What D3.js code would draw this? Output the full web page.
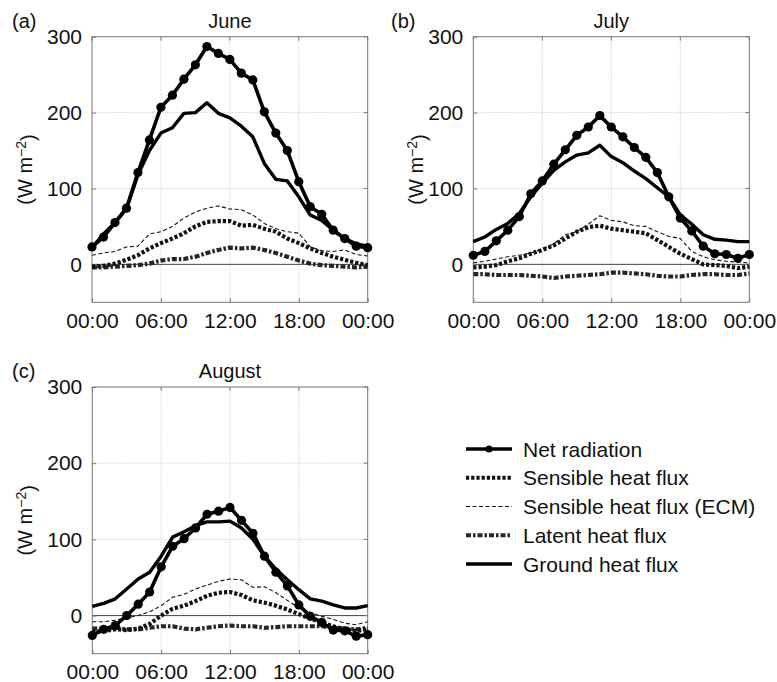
<!DOCTYPE html>
<html><head><meta charset="utf-8">
<script src="https://cdn.jsdelivr.net/npm/d3@7"></script>
<style>
html,body{margin:0;padding:0;background:#fff;}
svg text{font-family:"Liberation Sans",Arial,Helvetica,sans-serif;fill:#111;}
</style></head>
<body>
<svg id="chart" width="777" height="682"></svg>
<script>
// ---- data ----
const hours = d3.range(0, 25);
const xTickValues = [0, 6, 12, 18, 24];
const xTickLabels = ["00:00", "06:00", "12:00", "18:00", "00:00"];
const yTickValues = [0, 100, 200, 300];
const seriesNames = ["Net radiation", "Sensible heat flux", "Sensible heat flux (ECM)", "Latent heat flux", "Ground heat flux"];
const panelLetters = ["(a)", "(b)", "(c)"];
const months = ["June", "July", "August"];

const juneNet      = [23,36,55,74,121,164,207,223,244,263,287,278,270,252,243,201,173,150,109,76,66,45,34,24,22];
const juneSensible = [-3,-2,1,6,12,21,28,34,41,50,56,57,57,51,52,47,43,34,28,21,15,10,6,2,-1];
const juneECM      = [12,15,17,23,24,40,43,50,61,69,74,77,73,72,65,54,47,43,41,23,18,17,19,13,11];
const juneLatent   = [-4,-4,-3,-2,-1,1,5,7,7,10,15,19,22,21,22,19,15,10,5,1,-1,-2,-3,-4,-3];
const juneGround   = [22,40,55,73,118,150,173,180,199,200,213,199,193,182,168,133,112,110,89,65,58,45,34,27,24];

const julyNet      = [12,17,31,45,63,93,110,132,151,170,181,196,181,168,154,141,121,89,61,44,24,14,13,8,13];
const julySensible = [-4,-3,-1,4,8,14,19,25,34,43,49,51,47,45,43,41,32,23,14,7,0,-1,-2,-5,-3];
const julyECM      = [2,4,7,10,12,15,20,27,39,43,53,64,58,56,51,50,43,37,34,17,10,6,4,3,2];
const julyLatent   = [-13,-13,-14,-14,-14,-15,-16,-18,-16,-15,-14,-13,-11,-11,-12,-13,-15,-16,-16,-14,-13,-13,-14,-14,-12];
const julyGround   = [30,36,46,54,67,89,107,124,135,144,147,157,142,134,123,113,101,89,65,53,39,33,32,30,30];

const augNet       = [-26,-18,-13,0,15,31,64,91,101,115,133,137,142,125,108,78,57,39,14,-1,-9,-19,-20,-27,-25];
const augSensible  = [-22,-20,-18,-19,-17,-11,0,9,13,19,26,30,31,27,20,17,13,8,2,-4,-9,-14,-18,-20,-18];
const augECM       = [-8,-8,-6,-3,0,5,13,24,28,35,40,45,48,47,37,38,30,20,10,4,-1,-5,-10,-12,-8];
const augLatent    = [-17,-17,-16,-18,-18,-16,-14,-14,-17,-18,-16,-14,-13,-14,-14,-16,-15,-14,-14,-14,-14,-16,-17,-18,-16];
const augGround    = [12,16,22,35,48,57,78,103,110,118,123,123,124,115,100,78,61,47,34,22,19,14,10,10,13];

// ---- styles ----
const styles = {
  "Net radiation":            {w:3.6, dash:null,      color:"#000", marker:true},
  "Sensible heat flux":       {w:4.2, dash:"3.2,2",   color:"#111", marker:false},
  "Sensible heat flux (ECM)": {w:1.1, dash:"4,2.5",   color:"#111", marker:false},
  "Latent heat flux":         {w:4.2, dash:"5,2,2.5,2", color:"#262626", marker:false},
  "Ground heat flux":         {w:3.4, dash:null,      color:"#000", marker:false}
};
const drawOrder = ["Sensible heat flux (ECM)", "Latent heat flux", "Sensible heat flux", "Ground heat flux", "Net radiation"];

const panels = [
  {letter:panelLetters[0], title:months[0], left:92, right:367.7, top:36.7, bottom:302.3, ylabX:25, letterX:12,
   series:{"Net radiation":juneNet,"Sensible heat flux":juneSensible,"Sensible heat flux (ECM)":juneECM,"Latent heat flux":juneLatent,"Ground heat flux":juneGround}},
  {letter:panelLetters[1], title:months[1], left:473.3, right:749.3, top:36.7, bottom:302.3, ylabX:416, letterX:391,
   series:{"Net radiation":julyNet,"Sensible heat flux":julySensible,"Sensible heat flux (ECM)":julyECM,"Latent heat flux":julyLatent,"Ground heat flux":julyGround}},
  {letter:panelLetters[2], title:months[2], left:92.3, right:367.7, top:387, bottom:653.7, ylabX:25, letterX:12,
   series:{"Net radiation":augNet,"Sensible heat flux":augSensible,"Sensible heat flux (ECM)":augECM,"Latent heat flux":augLatent,"Ground heat flux":augGround}}
];

const svg = d3.select("#chart");

panels.forEach(p => {
  const x = d3.scaleLinear().domain([0, 24]).range([p.left, p.right]);
  const y = d3.scaleLinear().domain([-50, 300]).range([p.bottom, p.top]);
  const g = svg.append("g");

  // grid
  g.selectAll(".vg").data([6,12,18]).enter().append("line")
    .attr("x1", d=>x(d)).attr("x2", d=>x(d)).attr("y1", p.top).attr("y2", p.bottom)
    .attr("stroke", "#b8b8b8").attr("stroke-width", 0.8).attr("stroke-dasharray", "1,1.5");
  g.selectAll(".hg").data([100,200]).enter().append("line")
    .attr("x1", p.left).attr("x2", p.right).attr("y1", d=>y(d)).attr("y2", d=>y(d))
    .attr("stroke", "#b8b8b8").attr("stroke-width", 0.8).attr("stroke-dasharray", "1,1.5");

  // zero line
  g.append("line").attr("x1", p.left).attr("x2", p.right).attr("y1", y(0)).attr("y2", y(0))
    .attr("stroke", "#444").attr("stroke-width", 1);

  // axes (labels only, ticks inward)
  const xAxis = d3.axisBottom(x).tickValues(xTickValues).tickSize(-4)
    .tickFormat((d,i)=>xTickLabels[i]).tickPadding(9);
  const gx = g.append("g").attr("transform", `translate(0,${p.bottom})`).call(xAxis);
  gx.select(".domain").remove();
  gx.selectAll("line").attr("stroke", "#777");
  gx.selectAll("text").attr("font-size", 21).attr("dy", "0.78em").style("font-family", "Liberation Sans, Arial, sans-serif").attr("fill", "#111");

  const yAxis = d3.axisLeft(y).tickValues(yTickValues).tickSize(-4).tickPadding(10);
  const gy = g.append("g").attr("transform", `translate(${p.left},0)`).call(yAxis);
  gy.select(".domain").remove();
  gy.selectAll("line").attr("stroke", "#777");
  gy.selectAll("text").attr("font-size", 21).style("font-family", "Liberation Sans, Arial, sans-serif").attr("fill", "#111");

  // top/right inward ticks
  g.selectAll(".tt").data(xTickValues).enter().append("line")
    .attr("x1", d=>x(d)).attr("x2", d=>x(d)).attr("y1", p.top).attr("y2", p.top+4).attr("stroke", "#777");
  g.selectAll(".rt").data(yTickValues).enter().append("line")
    .attr("x1", p.right).attr("x2", p.right-4).attr("y1", d=>y(d)).attr("y2", d=>y(d)).attr("stroke", "#777");

  // frame
  g.append("rect").attr("x", p.left).attr("y", p.top).attr("width", p.right-p.left).attr("height", p.bottom-p.top)
    .attr("fill", "none").attr("stroke", "#777").attr("stroke-width", 1);

  // series
  const line = d3.line().x((d,i)=>x(hours[i])).y(d=>y(d));
  drawOrder.forEach(name => {
    const s = styles[name];
    const vals = p.series[name];
    const path = g.append("path").datum(vals).attr("d", line)
      .attr("fill", "none").attr("stroke", s.color).attr("stroke-width", s.w)
      .attr("stroke-linejoin", "round");
    if (s.dash) path.attr("stroke-dasharray", s.dash);
    if (s.marker) {
      g.selectAll(null).data(vals).enter().append("circle")
        .attr("cx", (d,i)=>x(hours[i])).attr("cy", d=>y(d)).attr("r", 4.6).attr("fill", "#000");
    }
  });

  // title and letter
  svg.append("text").attr("x", (p.left+p.right)/2).attr("y", p.top-9).attr("text-anchor", "middle")
    .attr("font-size", 20).text(p.title);
  svg.append("text").attr("x", p.letterX).attr("y", p.top-9).attr("font-size", 20).text(p.letter);

  // y label
  const yl = svg.append("text").attr("transform", `translate(${p.ylabX},${(p.top+p.bottom)/2}) rotate(-90)`)
    .attr("text-anchor", "middle").attr("dy", "0.35em").attr("font-size", 20);
  yl.append("tspan").text("(W m");
  yl.append("tspan").attr("dy", "-0.45em").attr("font-size", 14).text("\u22122");
  yl.append("tspan").attr("dy", "0.45em").text(")");
});

// legend
const legY = d3.scaleLinear().domain([0, 4]).range([449, 564]);
const leg = svg.append("g");
seriesNames.forEach((name, i) => {
  const s = styles[name];
  const yy = legY(i);
  const l = leg.append("line").attr("x1", 466).attr("x2", 512).attr("y1", yy).attr("y2", yy)
    .attr("stroke", s.color).attr("stroke-width", s.w);
  if (s.dash) l.attr("stroke-dasharray", s.dash);
  if (s.marker) leg.append("circle").attr("cx", 489).attr("cy", yy).attr("r", 3.6).attr("fill", "#000");
  leg.append("text").attr("x", 523).attr("y", yy).attr("dy", "0.36em").attr("font-size", 21).text(name);
});
</script>
</body></html>
